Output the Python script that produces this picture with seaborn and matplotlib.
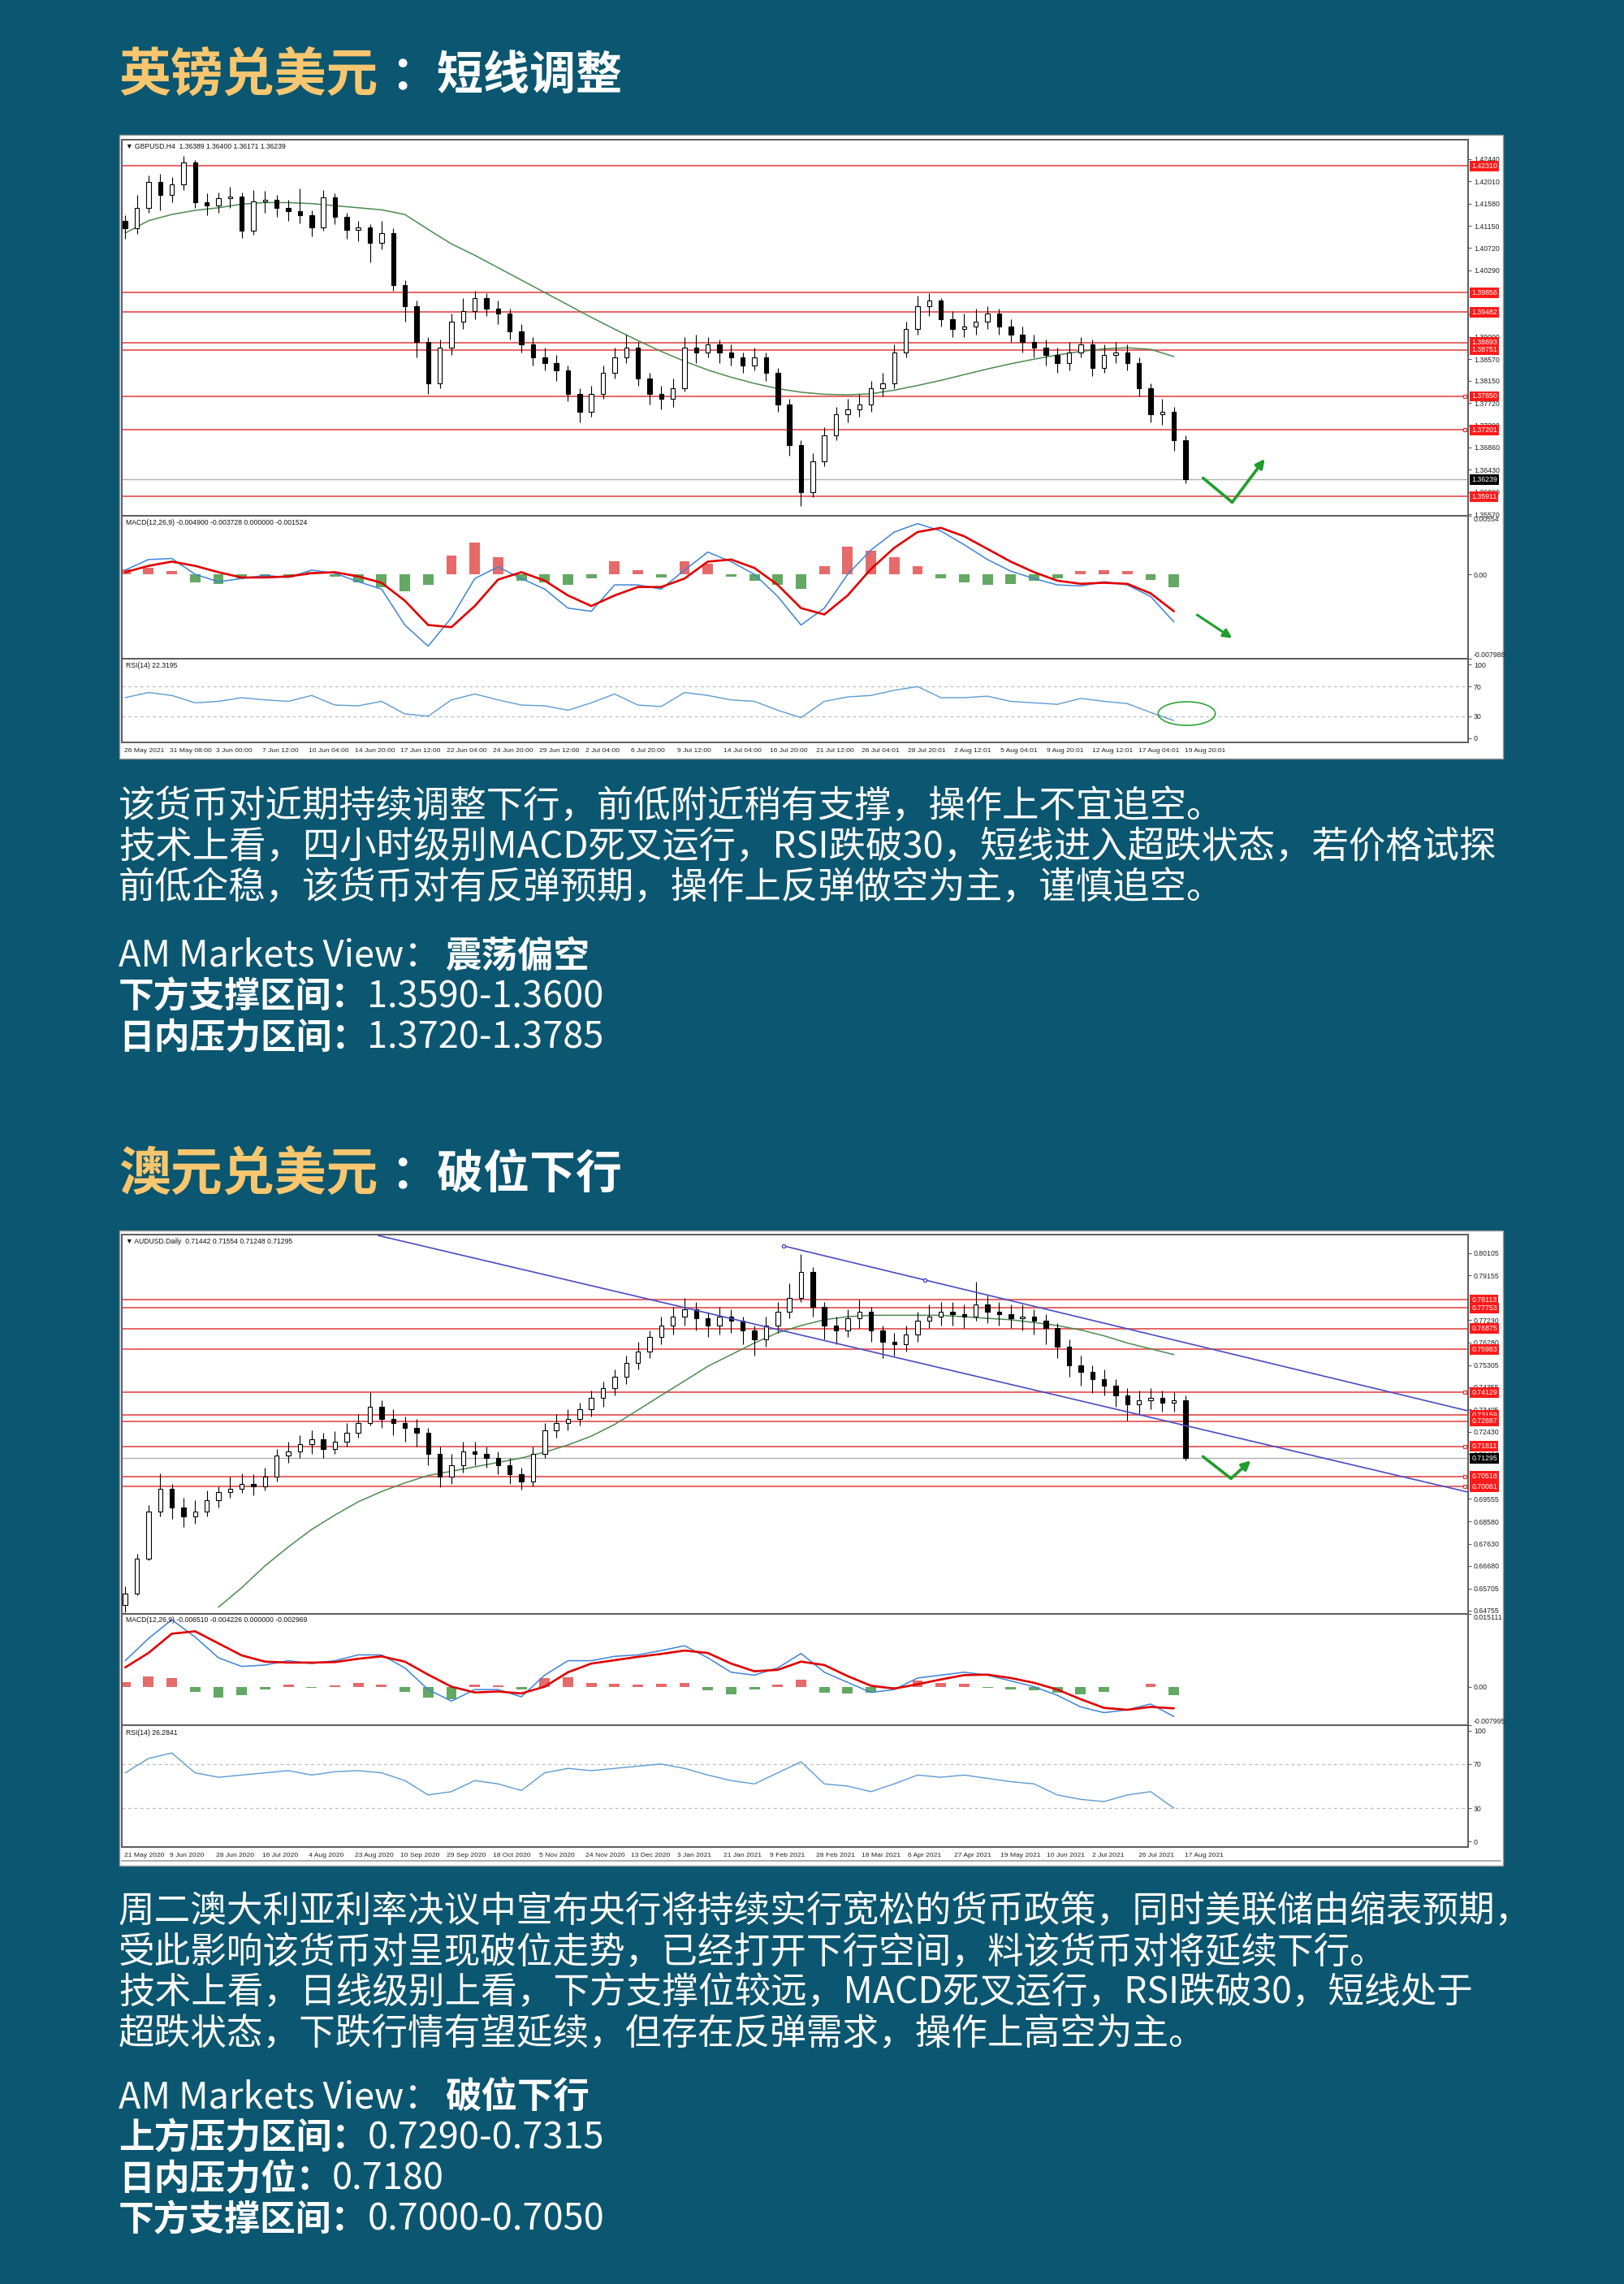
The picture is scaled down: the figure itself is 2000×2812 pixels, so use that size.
import numpy as np
import matplotlib
matplotlib.use('Agg')
import matplotlib.pyplot as plt
import matplotlib.transforms as mtransforms
from matplotlib.patches import Rectangle, Ellipse
from matplotlib.lines import Line2D
import seaborn as sns

sns.set_style('white')
plt.rcParams['font.family'] = ['Noto Sans CJK SC', 'DejaVu Sans']
plt.rcParams['axes.unicode_minus'] = False

# ---------------------------------------------------------------- data: GBPUSD H4
gbp_first_open = 1.4125
gbp_close = [1.4110, 1.4150, 1.4200, 1.4175, 1.4195, 1.4238, 1.4160, 1.4154, 1.4168, 1.4172,
             1.4105, 1.4162, 1.4165, 1.4150, 1.4143, 1.4135, 1.4112, 1.4170, 1.4133, 1.4107,
             1.4112, 1.4082, 1.4101, 1.4000, 1.3960, 1.3890, 1.3810, 1.3880, 1.3930, 1.3950,
             1.3975, 1.3955, 1.3945, 1.3910, 1.3885, 1.3860, 1.3850, 1.3835, 1.3790, 1.3755,
             1.3790, 1.3830, 1.3860, 1.3880, 1.3820, 1.3790, 1.3780, 1.3800, 1.3880, 1.3870,
             1.3885, 1.3870, 1.3860, 1.3845, 1.3860, 1.3830, 1.3770, 1.3690, 1.3600, 1.3660,
             1.3710, 1.3750, 1.3760, 1.3770, 1.3800, 1.3810, 1.3870, 1.3915, 1.3960, 1.3970,
             1.3935, 1.3915, 1.3920, 1.3930, 1.3945, 1.3920, 1.3905, 1.3890, 1.3880, 1.3865,
             1.3850, 1.3870, 1.3885, 1.3840, 1.3865, 1.3870, 1.3850, 1.3800, 1.3750, 1.3755,
             1.3700, 1.3624]
gbp_high = [1.4135, 1.4175, 1.4212, 1.4215, 1.4210, 1.4250, 1.4242, 1.4178, 1.4180, 1.4190,
            1.4180, 1.4185, 1.4182, 1.4175, 1.4165, 1.4188, 1.4145, 1.4185, 1.4178, 1.4140,
            1.4125, 1.4118, 1.4125, 1.4110, 1.4010, 1.3970, 1.3900, 1.3895, 1.3945, 1.3975,
            1.3990, 1.3985, 1.3970, 1.3955, 1.3925, 1.3900, 1.3880, 1.3865, 1.3845, 1.3800,
            1.3805, 1.3845, 1.3880, 1.3905, 1.3890, 1.3830, 1.3805, 1.3820, 1.3900, 1.3905,
            1.3900, 1.3895, 1.3885, 1.3870, 1.3880, 1.3870, 1.3840, 1.3780, 1.3700, 1.3675,
            1.3725, 1.3765, 1.3780, 1.3790, 1.3815, 1.3830, 1.3885, 1.3930, 1.3980, 1.3985,
            1.3975, 1.3950, 1.3945, 1.3955, 1.3960, 1.3955, 1.3935, 1.3920, 1.3905, 1.3895,
            1.3880, 1.3890, 1.3900, 1.3895, 1.3885, 1.3890, 1.3885, 1.3860, 1.3810, 1.3780,
            1.3765, 1.3710]
gbp_low = [1.4090, 1.4100, 1.4140, 1.4145, 1.4160, 1.4185, 1.4150, 1.4135, 1.4140, 1.4150,
           1.4092, 1.4098, 1.4140, 1.4132, 1.4125, 1.4120, 1.4095, 1.4105, 1.4118, 1.4090,
           1.4085, 1.4045, 1.4070, 1.3990, 1.3930, 1.3860, 1.3790, 1.3800, 1.3865, 1.3915,
           1.3935, 1.3940, 1.3925, 1.3895, 1.3870, 1.3845, 1.3835, 1.3815, 1.3775, 1.3735,
           1.3745, 1.3780, 1.3820, 1.3850, 1.3805, 1.3770, 1.3760, 1.3765, 1.3795, 1.3850,
           1.3860, 1.3850, 1.3845, 1.3830, 1.3835, 1.3815, 1.3755, 1.3670, 1.3572, 1.3590,
           1.3650, 1.3700, 1.3735, 1.3745, 1.3755, 1.3785, 1.3800, 1.3860, 1.3905, 1.3940,
           1.3920, 1.3900, 1.3900, 1.3905, 1.3915, 1.3905, 1.3890, 1.3870, 1.3860, 1.3845,
           1.3830, 1.3835, 1.3860, 1.3825, 1.3830, 1.3850, 1.3835, 1.3785, 1.3735, 1.3730,
           1.3680, 1.3617]
gbp_ma = [1.4101, 1.4125, 1.4137, 1.4145, 1.4150, 1.4157, 1.4160, 1.4160, 1.4158, 1.4154,
          1.4150, 1.4146, 1.4137, 1.4108, 1.4080, 1.4058, 1.4034, 1.4010, 1.3986, 1.3962,
          1.3938, 1.3915, 1.3893, 1.3872, 1.3853, 1.3836, 1.3822, 1.3810, 1.3800, 1.3793,
          1.3789, 1.3788, 1.3790, 1.3797, 1.3806, 1.3816, 1.3827, 1.3838, 1.3848, 1.3857,
          1.3865, 1.3872, 1.3877, 1.3879, 1.3876, 1.3862]
gbp_macd = [0.0004, 0.0014, 0.0015, 0.0000, -0.0007, -0.0004, -0.0001, -0.0003, 0.0004, 0.0001,
            -0.0007, -0.0014, -0.0048, -0.0068, -0.0041, -0.0004, 0.0007, -0.0004, -0.0014, -0.0032,
            -0.0035, -0.0010, -0.0010, -0.0014, 0.0004, 0.0021, 0.0012, 0.0000, -0.0021, -0.0048,
            -0.0032, 0.0000, 0.0023, 0.0040, 0.0048, 0.0041, 0.0028, 0.0014, 0.0003, -0.0004,
            -0.0010, -0.0011, -0.0007, -0.0010, -0.0021, -0.0045]
gbp_signal = [0.0002, 0.0008, 0.0012, 0.0008, 0.0002, -0.0003, -0.0003, -0.0002, 0.0001, 0.0002,
              -0.0002, -0.0008, -0.0025, -0.0048, -0.0050, -0.0030, -0.0005, 0.0002, -0.0006, -0.0020,
              -0.0030, -0.0020, -0.0012, -0.0012, -0.0004, 0.0012, 0.0014, 0.0006, -0.0010, -0.0032,
              -0.0038, -0.0020, 0.0005, 0.0025, 0.0040, 0.0044, 0.0036, 0.0024, 0.0012, 0.0002,
              -0.0006, -0.0009, -0.0008, -0.0009, -0.0018, -0.0035]
gbp_hist = [0.0005, 0.0006, 0.0003, -0.0008, -0.0009, -0.0004, -0.0002, -0.0003, 0.0002, -0.0002,
            -0.0008, -0.0012, -0.0016, -0.0010, 0.0018, 0.0030, 0.0016, -0.0006, -0.0008, -0.0010,
            -0.0004, 0.0012, 0.0004, -0.0003, 0.0012, 0.0010, -0.0002, -0.0006, -0.0010, -0.0014,
            0.0008, 0.0026, 0.0022, 0.0016, 0.0008, -0.0004, -0.0008, -0.0010, -0.0009, -0.0006,
            -0.0004, 0.0003, 0.0004, 0.0003, -0.0005, -0.0012]
gbp_rsi = [55, 62, 58, 48, 50, 55, 52, 50, 58, 45, 44, 50, 33, 30, 52, 60, 52, 45, 44, 38,
           48, 60, 45, 43, 62, 58, 52, 50, 38, 28, 50, 56, 58, 65, 70, 55, 55, 57, 50, 48,
           46, 54, 50, 47, 35, 24]
gbp_levels = [1.42310, 1.39856, 1.39482, 1.38893, 1.38751, 1.37850, 1.37201, 1.35911]
gbp_marked = [1.37850, 1.37201]
gbp_last = 1.36239
gbp_yticks = [1.42440, 1.42010, 1.41580, 1.41150, 1.40720, 1.40290, 1.39430, 1.39000,
              1.38570, 1.38150, 1.37720, 1.37290, 1.36860, 1.36430, 1.36000, 1.35570]
gbp_macd_lim = [-0.007988, 0.00554]
gbp_dates = ['26 May 2021', '31 May 08:00', '3 Jun 00:00', '7 Jun 12:00', '10 Jun 04:00',
             '14 Jun 20:00', '17 Jun 12:00', '22 Jun 04:00', '24 Jun 20:00', '29 Jun 12:00',
             '2 Jul 04:00', '6 Jul 20:00', '9 Jul 12:00', '14 Jul 04:00', '16 Jul 20:00',
             '21 Jul 12:00', '26 Jul 04:01', '28 Jul 20:01', '2 Aug 12:01', '5 Aug 04:01',
             '9 Aug 20:01', '12 Aug 12:01', '17 Aug 04:01', '19 Aug 20:01']
gbp_header = '\u25bc GBPUSD.H4  1.36389 1.36400 1.36171 1.36239'
gbp_macd_header = 'MACD(12,26,9) -0.004900 -0.003728 0.000000 -0.001524'
gbp_rsi_header = 'RSI(14) 22.3195'

# ---------------------------------------------------------------- data: AUDUSD Daily
aud_first_open = 0.6500
aud_close = [0.6550, 0.6700, 0.6900, 0.7000, 0.6920, 0.6880, 0.6900, 0.6950, 0.6985, 0.7000,
             0.7020, 0.7010, 0.7050, 0.7140, 0.7160, 0.7190, 0.7210, 0.7170, 0.7200, 0.7240,
             0.7280, 0.7350, 0.7300, 0.7280, 0.7260, 0.7240, 0.7150, 0.7050, 0.7100, 0.7160,
             0.7150, 0.7130, 0.7100, 0.7060, 0.7030, 0.7150, 0.7250, 0.7280, 0.7300, 0.7340,
             0.7390, 0.7430, 0.7480, 0.7540, 0.7590, 0.7650, 0.7700, 0.7740, 0.7770, 0.7730,
             0.7700, 0.7740, 0.7720, 0.7680, 0.7640, 0.7700, 0.7760, 0.7820, 0.7930, 0.7780,
             0.7700, 0.7680, 0.7730, 0.7760, 0.7680, 0.7630, 0.7620, 0.7660, 0.7720, 0.7740,
             0.7760, 0.7750, 0.7740, 0.7790, 0.7760, 0.7750, 0.7730, 0.7740, 0.7720, 0.7690,
             0.7610, 0.7530, 0.7500, 0.7470, 0.7440, 0.7400, 0.7360, 0.7380, 0.7390, 0.7370,
             0.7380, 0.7130]
aud_high = [0.6580, 0.6720, 0.6930, 0.7065, 0.7020, 0.6960, 0.6950, 0.6990, 0.7010, 0.7050,
            0.7065, 0.7060, 0.7090, 0.7170, 0.7200, 0.7230, 0.7250, 0.7240, 0.7245, 0.7280,
            0.7320, 0.7414, 0.7380, 0.7340, 0.7310, 0.7300, 0.7260, 0.7180, 0.7150, 0.7200,
            0.7200, 0.7180, 0.7160, 0.7130, 0.7090, 0.7180, 0.7280, 0.7320, 0.7340, 0.7370,
            0.7420, 0.7460, 0.7510, 0.7570, 0.7630, 0.7680, 0.7740, 0.7780, 0.7820, 0.7800,
            0.7760, 0.7780, 0.7770, 0.7740, 0.7700, 0.7740, 0.7800, 0.7880, 0.8007, 0.7950,
            0.7800, 0.7740, 0.7770, 0.7810, 0.7780, 0.7700, 0.7670, 0.7700, 0.7760, 0.7790,
            0.7800, 0.7800, 0.7790, 0.7890, 0.7830, 0.7800, 0.7790, 0.7790, 0.7770, 0.7750,
            0.7710, 0.7640, 0.7570, 0.7530, 0.7510, 0.7470, 0.7430, 0.7420, 0.7430, 0.7420,
            0.7415, 0.7400]
aud_low = [0.6470, 0.6540, 0.6690, 0.6880, 0.6870, 0.6835, 0.6850, 0.6880, 0.6920, 0.6960,
           0.6980, 0.6970, 0.6990, 0.7030, 0.7110, 0.7130, 0.7150, 0.7130, 0.7150, 0.7180,
           0.7220, 0.7270, 0.7260, 0.7230, 0.7200, 0.7180, 0.7100, 0.7005, 0.7020, 0.7070,
           0.7100, 0.7090, 0.7060, 0.7020, 0.6995, 0.7010, 0.7130, 0.7220, 0.7250, 0.7270,
           0.7310, 0.7350, 0.7400, 0.7450, 0.7510, 0.7560, 0.7620, 0.7660, 0.7700, 0.7680,
           0.7650, 0.7660, 0.7670, 0.7620, 0.7570, 0.7610, 0.7670, 0.7730, 0.7800, 0.7740,
           0.7640, 0.7620, 0.7650, 0.7690, 0.7630, 0.7560, 0.7570, 0.7590, 0.7630, 0.7690,
           0.7700, 0.7700, 0.7690, 0.7720, 0.7710, 0.7700, 0.7690, 0.7680, 0.7660, 0.7620,
           0.7560, 0.7480, 0.7440, 0.7410, 0.7400, 0.7350, 0.7290, 0.7320, 0.7340, 0.7330,
           0.7330, 0.7120]
aud_ma = [np.nan, np.nan, np.nan, np.nan, 0.6490, 0.6574, 0.6668, 0.6749, 0.6824, 0.6886,
          0.6943, 0.6987, 0.7024, 0.7056, 0.7074, 0.7093, 0.7112, 0.7131, 0.7156, 0.7187,
          0.7225, 0.7275, 0.7337, 0.7400, 0.7462, 0.7525, 0.7575, 0.7625, 0.7669, 0.7700,
          0.7725, 0.7738, 0.7744, 0.7744, 0.7744, 0.7744, 0.7738, 0.7731, 0.7725, 0.7713,
          0.7700, 0.7681, 0.7656, 0.7625, 0.7600, 0.7575]
aud_macd = [0.0054, 0.0100, 0.0139, 0.0103, 0.0060, 0.0042, 0.0045, 0.0054, 0.0048, 0.0054,
            0.0066, 0.0066, 0.0039, -0.0006, -0.0030, -0.0006, -0.0006, -0.0021, 0.0024, 0.0054,
            0.0054, 0.0063, 0.0066, 0.0075, 0.0085, 0.0060, 0.0030, 0.0024, 0.0039, 0.0069,
            0.0030, 0.0009, -0.0012, -0.0006, 0.0018, 0.0024, 0.0030, 0.0024, 0.0012, 0.0000,
            -0.0018, -0.0042, -0.0054, -0.0048, -0.0036, -0.0062]
aud_signal = [0.0040, 0.0070, 0.0110, 0.0115, 0.0090, 0.0065, 0.0052, 0.0050, 0.0050, 0.0051,
              0.0058, 0.0063, 0.0052, 0.0025, 0.0000, -0.0012, -0.0010, -0.0014, 0.0000, 0.0030,
              0.0048, 0.0055, 0.0062, 0.0068, 0.0075, 0.0070, 0.0048, 0.0032, 0.0035, 0.0052,
              0.0045, 0.0022, 0.0002, -0.0004, 0.0005, 0.0015, 0.0024, 0.0025, 0.0018, 0.0008,
              -0.0006, -0.0026, -0.0044, -0.0048, -0.0042, -0.0045]
aud_hist = [0.0010, 0.0022, 0.0018, -0.0010, -0.0022, -0.0018, -0.0006, 0.0004, -0.0002, 0.0003,
            0.0008, 0.0004, -0.0010, -0.0022, -0.0026, 0.0004, 0.0003, -0.0006, 0.0018, 0.0020,
            0.0008, 0.0006, 0.0004, 0.0006, 0.0008, -0.0008, -0.0016, -0.0006, 0.0004, 0.0014,
            -0.0012, -0.0014, -0.0012, -0.0002, 0.0012, 0.0008, 0.0006, -0.0002, -0.0006, -0.0008,
            -0.0012, -0.0016, -0.0010, 0.0000, 0.0006, -0.0017]
aud_rsi = [62, 75, 80, 62, 58, 60, 62, 64, 60, 63, 64, 62, 55, 42, 45, 55, 52, 46, 62, 66,
           64, 66, 68, 70, 66, 60, 55, 52, 62, 72, 52, 50, 45, 52, 60, 58, 60, 57, 54, 52,
           42, 38, 36, 42, 45, 30]
aud_levels = [0.78113, 0.77753, 0.76875, 0.75983, 0.74129, 0.73159, 0.72887, 0.71811, 0.70518, 0.70081]
aud_marked = [0.74129, 0.71811, 0.70518, 0.70081]
aud_last = 0.71295
aud_yticks = [0.80105, 0.79155, 0.77230, 0.76280, 0.75305, 0.74355, 0.73405, 0.72430,
              0.71480, 0.69555, 0.68580, 0.67630, 0.66680, 0.65705, 0.64755]
aud_macd_lim = [-0.007995, 0.015111]
aud_dates = ['21 May 2020', '9 Jun 2020', '28 Jun 2020', '16 Jul 2020', '4 Aug 2020',
             '23 Aug 2020', '10 Sep 2020', '29 Sep 2020', '18 Oct 2020', '5 Nov 2020',
             '24 Nov 2020', '13 Dec 2020', '3 Jan 2021', '21 Jan 2021', '9 Feb 2021',
             '28 Feb 2021', '18 Mar 2021', '6 Apr 2021', '27 Apr 2021', '19 May 2021',
             '10 Jun 2021', '2 Jul 2021', '26 Jul 2021', '17 Aug 2021']
aud_header = '\u25bc AUDUSD.Daily  0.71442 0.71554 0.71248 0.71295'
aud_macd_header = 'MACD(12,26,9) -0.006510 -0.004226 0.000000 -0.002969'
aud_rsi_header = 'RSI(14) 26.2841'
# channel lines (bar index, price)
aud_trend_a = [(21.7, 0.8087), (115.2, 0.6985)]
aud_trend_b = [(56.5, 0.8042), (115.2, 0.7334)]
aud_trend_b_points = [(56.5, 0.8042), (68.6, 0.7896)]

# ---------------------------------------------------------------- texts
title1 = ('英镑兑美元', '：短线调整')
para1 = ['该货币对近期持续调整下行，前低附近稍有支撑，操作上不宜追空。',
         '技术上看，四小时级别MACD死叉运行，RSI跌破30，短线进入超跌状态，若价格试探',
         '前低企稳，该货币对有反弹预期，操作上反弹做空为主，谨慎追空。']
view1 = [('AM Markets View：', '震荡偏空', False),
         ('下方支撑区间：', '1.3590-1.3600', True),
         ('日内压力区间：', '1.3720-1.3785', True)]
title2 = ('澳元兑美元', '：破位下行')
para2 = ['周二澳大利亚利率决议中宣布央行将持续实行宽松的货币政策，同时美联储由缩表预期，',
         '受此影响该货币对呈现破位走势，已经打开下行空间，料该货币对将延续下行。',
         '技术上看，日线级别上看，下方支撑位较远，MACD死叉运行，RSI跌破30，短线处于',
         '超跌状态，下跌行情有望延续，但存在反弹需求，操作上高空为主。']
view2 = [('AM Markets View：', '破位下行', False),
         ('上方压力区间：', '0.7290-0.7315', True),
         ('日内压力位：', '0.7180', True),
         ('下方支撑区间：', '0.7000-0.7050', True)]

# ---------------------------------------------------------------- layout
BG = '#0b5670'
GOLD = '#f8c66e'
GREEN = '#1f9e2c'
W, H = 2000, 2812
AX_X0, AX_X1 = 150, 1808
BAR0_PX, BAR_STEP_PX = 154.2, 14.35
TICK0_PX, TICK_STEP_PX = 152.6, 56.8
XLIM = ((AX_X0 - BAR0_PX) / BAR_STEP_PX, (AX_X1 - BAR0_PX) / BAR_STEP_PX)
SMALL = ['Liberation Sans', 'DejaVu Sans']

fig = plt.figure(figsize=(W / 100, H / 100), dpi=100, facecolor=BG)
renderer = fig.canvas.get_renderer()


def fx(px):
    return px / W


def fy(py):
    return 1 - py / H


def add_ax(y0, y1):
    return fig.add_axes([fx(AX_X0), fy(y1), fx(AX_X1 - AX_X0), (y1 - y0) / H])


def white_box(x0, y0, x1, y1):
    fig.add_artist(Rectangle((fx(x0), fy(y1)), fx(x1 - x0), (y1 - y0) / H,
                             transform=fig.transFigure, fc='white', ec='#9a9a9a', lw=1.0, zorder=0))


def style(ax, ylim):
    ax.set_facecolor('white')
    ax.set_xlim(*XLIM)
    ax.set_ylim(*ylim)
    for s in ax.spines.values():
        s.set_visible(True)
        s.set_color('#5c5c5c')
        s.set_linewidth(1.4)
    ax.yaxis.tick_right()
    ax.tick_params(axis='y', direction='out', length=3, width=0.8, pad=2,
                   colors='#5c5c5c', labelcolor='#222222', labelsize=6.3)
    ax.set_xticks([])
    ax.set_xlabel('')
    ax.set_ylabel('')
    ax.grid(False)


def set_ylabels(ax, ticks, labels):
    ax.set_yticks(ticks)
    ax.set_yticklabels(labels, fontsize=6.3, fontfamily=SMALL)


def header(ax, txt, y_frac):
    ax.text(0.003, y_frac, txt, transform=ax.transAxes, fontsize=6.2, family=SMALL,
            va='top', ha='left', color='#111111', zorder=7)


def price_panel(ax, first_open, close, high, low, ma, levels, marked, last, yticks, ylim,
                head, min_body):
    c = np.asarray(close)
    o = np.concatenate([[first_open], c[:-1]])
    h = np.asarray(high)
    lo = np.asarray(low)
    x = np.arange(len(c))
    style(ax, ylim)
    for lv in levels:
        ax.axhline(lv, color='#e23a3a', lw=1.1, zorder=1)
    ax.axhline(last, color='#b0b0b0', lw=1.0, zorder=1)
    sns.lineplot(x=np.arange(0, len(c), 2)[:len(ma)], y=ma, ax=ax, color='#4e8b50', lw=1.1,
                 legend=False, zorder=2)
    ax.vlines(x, lo, h, color='black', lw=0.8, zorder=3)
    up = c >= o
    bottoms = np.minimum(o, c)
    heights = np.maximum(np.abs(c - o), min_body)
    ax.bar(x[up], heights[up], 0.38, bottoms[up], facecolor='white', edgecolor='black', lw=0.8, zorder=4)
    ax.bar(x[~up], heights[~up], 0.38, bottoms[~up], facecolor='black', edgecolor='black', lw=0.8, zorder=4)
    set_ylabels(ax, yticks, [f'{v:.5f}' for v in yticks])
    trans = mtransforms.blended_transform_factory(ax.transAxes, ax.transData)
    for lv in levels:
        ax.text(1.0025, lv, f'{lv:.5f}', transform=trans, fontsize=6.3, family=SMALL, color='white',
                va='center', ha='left', clip_on=False, zorder=8,
                bbox=dict(boxstyle='square,pad=0.22', fc='#ff1a1a', ec='none'))
    ax.text(1.0025, last, f'{last:.5f}', transform=trans, fontsize=6.3, family=SMALL, color='white',
            va='center', ha='left', clip_on=False, zorder=8,
            bbox=dict(boxstyle='square,pad=0.22', fc='black', ec='none'))
    for lv in marked:
        ax.plot([XLIM[1] - 0.25], [lv], marker='s', ms=3.2, mfc='white', mec='#e23a3a', mew=0.9,
                clip_on=False, zorder=6)
    header(ax, head, 0.992)


def macd_panel(ax, macd, signal, hist, lim, head):
    style(ax, (lim[0], lim[1]))
    xi = np.arange(0, 2 * len(macd), 2)
    cols = ['#e66a6a' if v > 0 else '#63a863' for v in hist]
    ax.bar(xi, hist, width=0.9, color=cols, lw=0, zorder=2)
    sns.lineplot(x=xi, y=macd, ax=ax, color='#3f83d8', lw=1.1, legend=False, zorder=3)
    sns.lineplot(x=xi, y=signal, ax=ax, color='#e00000', lw=1.9, legend=False, zorder=4)
    ax.set_yticks([lim[1], 0.0, lim[0]])
    labs = ax.set_yticklabels([f'{lim[1]:g}' if lim[1] < 0.01 else f'{lim[1]:.6f}', '0.00',
                               f'{lim[0]:.6f}'], fontsize=6.3, fontfamily=SMALL)
    labs[0].set_va('top')
    labs[2].set_va('bottom')
    header(ax, head, 0.975)


def rsi_panel(ax, rsi, ylim, dates, head):
    style(ax, ylim)
    xi = np.arange(0, 2 * len(rsi), 2)
    for lv in (70, 30):
        ax.axhline(lv, color='#bdbdbd', lw=0.9, ls=(0, (3, 3)), zorder=1)
    sns.lineplot(x=xi, y=rsi, ax=ax, color='#5d9bd3', lw=1.0, legend=False, zorder=3)
    set_ylabels(ax, [100, 70, 30, 0], ['100', '70', '30', '0'])
    tpos = [(TICK0_PX + k * TICK_STEP_PX - BAR0_PX) / BAR_STEP_PX for k in range(len(dates))]
    ax.set_xticks(tpos)
    ax.set_xticklabels(dates, fontsize=6.1, fontfamily=SMALL, ha='left', color='#222222')
    ax.tick_params(axis='x', direction='out', length=4, width=0.8, pad=1, colors='#5c5c5c',
                   labelcolor='#222222')
    header(ax, head, 0.965)


def green_arrow(ax, pts, lw=2.6):
    ax.plot([p[0] for p in pts[:-1]], [p[1] for p in pts[:-1]], color=GREEN, lw=lw,
            solid_capstyle='round', zorder=9, clip_on=False)
    ax.annotate('', xy=pts[-1], xytext=pts[-2], zorder=9,
                arrowprops=dict(arrowstyle='-|>', color=GREEN, lw=lw, mutation_scale=16,
                                shrinkA=0, shrinkB=0))


def rich(x_px, y_px, pieces):
    x = fx(x_px)
    for s, col, wt, size, gap in pieces:
        x += gap / W
        t = fig.text(x, fy(y_px), s, color=col, fontsize=size, fontweight=wt, va='center', ha='left')
        x += t.get_window_extent(renderer=renderer).width / fig.bbox.width


def view_lines(y0, rows):
    for i, (a, b, bold_first) in enumerate(rows):
        if bold_first:
            pieces = [(a, 'white', 'bold', 31.5, 0), (b, 'white', 'normal', 32.5, 0)]
        else:
            pieces = [(a, 'white', 'normal', 32.5, 0), (b, 'white', 'bold', 32, 6)]
        rich(146, y0 + i * 50.3, pieces)


# ---------------------------------------------------------------- block 1
rich(146, 93, [(title1[0], GOLD, 'bold', 46, 0), (title1[1], 'white', 'bold', 41, 16)])
white_box(147, 166, 1851, 934)
ax1p = add_ax(172, 635)
ax1m = add_ax(635, 811)
ax1r = add_ax(811, 914)
price_panel(ax1p, gbp_first_open, gbp_close, gbp_high, gbp_low, gbp_ma, gbp_levels, gbp_marked,
            gbp_last, gbp_yticks, (1.35539, 1.42817), gbp_header, 0.00006)
macd_panel(ax1m, gbp_macd, gbp_signal, gbp_hist, gbp_macd_lim, gbp_macd_header)
rsi_panel(ax1r, gbp_rsi, (-5.5, 107.7), gbp_dates, gbp_rsi_header)
green_arrow(ax1p, [(92.5, 1.3627), (95.0, 1.3580), (97.8, 1.3664)])
green_arrow(ax1m, [(92.0, -0.00384), (95.0, -0.00604)], lw=2.2)
ax1r.add_patch(Ellipse((91.1, 33.5), 4.9, 32, fill=False, ec=GREEN, lw=1.1, zorder=9))

for i, line in enumerate(para1):
    fig.text(fx(146), fy(993 + i * 50), line, color='white', fontsize=32.7, va='center', ha='left')
view_lines(1177, view1)

# ---------------------------------------------------------------- block 2
rich(146, 1446, [(title2[0], GOLD, 'bold', 46, 0), (title2[1], 'white', 'bold', 41, 16)])
white_box(147, 1515, 1851, 2297)
fig.add_artist(Line2D([fx(150), fx(1848)], [fy(2291), fy(2291)], transform=fig.transFigure,
                      color='#a0a0a0', lw=1.2, zorder=1))
ax2p = add_ax(1520, 1987)
ax2m = add_ax(1987, 2124)
ax2r = add_ax(2124, 2274)
price_panel(ax2p, aud_first_open, aud_close, aud_high, aud_low, aud_ma, aud_levels, aud_marked,
            aud_last, aud_yticks, (0.64613, 0.80907), aud_header, 0.0003)
for seg in (aud_trend_a, aud_trend_b):
    ax2p.plot([seg[0][0], seg[1][0]], [seg[0][1], seg[1][1]], color='#4b4bc4', lw=1.2, zorder=5)
ax2p.plot([p[0] for p in aud_trend_b_points], [p[1] for p in aud_trend_b_points], ls='none',
          marker='o', ms=3, mfc='white', mec='#4b4bc4', zorder=6)
macd_panel(ax2m, aud_macd, aud_signal, aud_hist, aud_macd_lim, aud_macd_header)
rsi_panel(ax2r, aud_rsi, (-5.1, 105.1), aud_dates, aud_rsi_header)
green_arrow(ax2p, [(92.5, 0.7137), (94.9, 0.7043), (96.6, 0.7120)])

for i, line in enumerate(para2):
    fig.text(fx(146), fy(2353 + i * 50.3), line, color='white', fontsize=32.1, va='center', ha='left')
view_lines(2582, view2)

fig.savefig('out.png', dpi=100, facecolor=BG)
